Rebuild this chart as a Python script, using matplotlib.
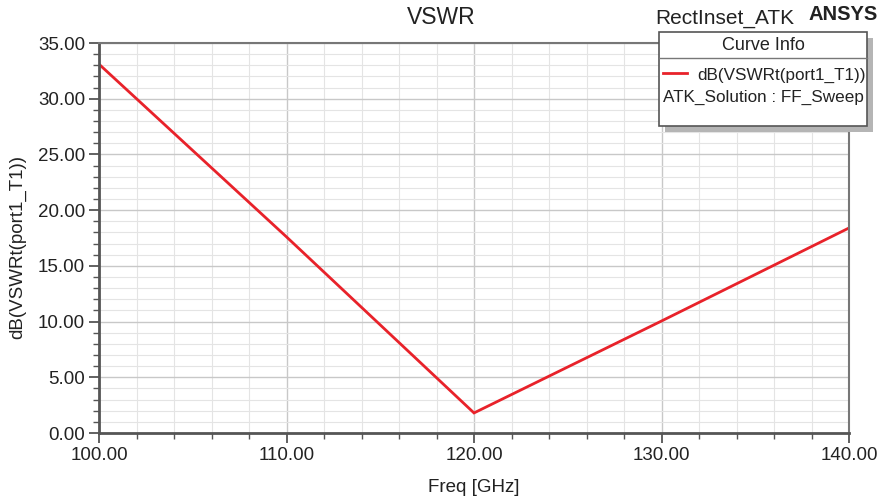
import matplotlib
matplotlib.use("Agg")
import matplotlib.pyplot as plt
from matplotlib.patches import Rectangle
from matplotlib.lines import Line2D
from matplotlib.ticker import MultipleLocator, FormatStrFormatter

plt.rcParams['font.family'] = ['Liberation Sans', 'DejaVu Sans']

freq = [100, 110, 120, 130, 140]
vswr_db = [33.1, 17.6, 1.8, 10.05, 18.4]

W, H = 882, 499
fig = plt.figure(figsize=(W / 100, H / 100), dpi=100)
ax = fig.add_axes([99 / W, 1 - 433 / H, (849 - 99) / W, (433 - 43) / H])

ax.plot(freq, vswr_db, color='#e8222a', lw=2.0, solid_joinstyle='miter')
ax.set_xlim(100, 140)
ax.set_ylim(0, 35)
ax.xaxis.set_major_locator(MultipleLocator(10))
ax.xaxis.set_minor_locator(MultipleLocator(2))
ax.yaxis.set_major_locator(MultipleLocator(5))
ax.yaxis.set_minor_locator(MultipleLocator(1))
ax.xaxis.set_major_formatter(FormatStrFormatter('%.2f'))
ax.yaxis.set_major_formatter(FormatStrFormatter('%.2f'))
ax.grid(which='major', color='#c8c8c8', lw=1.0)
ax.grid(which='minor', color='#e4e4e4', lw=0.8)
ax.set_axisbelow(True)
ax.tick_params(which='major', direction='out', length=7, width=1.3, color='#555555',
               labelsize=13.5, labelcolor='#222222', pad=3)
ax.tick_params(which='minor', direction='out', length=4, width=1.0, color='#555555')
for s in ['left', 'bottom']:
    ax.spines[s].set_color('#555555')
    ax.spines[s].set_linewidth(2.0)
for s in ['right', 'top']:
    ax.spines[s].set_color('#777777')
    ax.spines[s].set_linewidth(1.5)

ax.set_xlabel('Freq [GHz]', fontsize=13.5, color='#222222')
ax.xaxis.set_label_coords(0.5, -(488 - 433) / 390)
ax.set_ylabel('dB(VSWRt(port1_T1))', fontsize=13.5, color='#222222')
ax.yaxis.set_label_coords(-(99 - 18) / 750, (433 - 247) / 390)
ax.yaxis.label.set_va('center')
ax.xaxis.label.set_va('center')

fig.text(441 / W, 1 - 18 / H, 'VSWR', ha='center', va='center', fontsize=16.5, color='#222222')
fig.text(725 / W, 1 - 18 / H, 'RectInset_ATK', ha='center', va='center', fontsize=15, color='#222222')
fig.text(843 / W, 1 - 14 / H, 'ANSYS', ha='center', va='center', fontsize=14.5,
         fontweight='bold', color='#222222')

# legend box
lx0, ly0, lx1, ly1 = 659, 32, 867, 126
fig.patches.append(Rectangle(((lx0 + 6) / W, 1 - (ly1 + 6) / H), (lx1 - lx0) / W, (ly1 - ly0) / H,
                             transform=fig.transFigure, facecolor='#b5b5b5', edgecolor='none', zorder=5))
fig.patches.append(Rectangle((lx0 / W, 1 - ly1 / H), (lx1 - lx0) / W, (ly1 - ly0) / H,
                             transform=fig.transFigure, facecolor='white', edgecolor='#555555',
                             lw=1.2, zorder=6))
fig.lines.append(Line2D([lx0 / W, lx1 / W], [1 - 58 / H, 1 - 58 / H], transform=fig.transFigure,
                        color='#777777', lw=1.0, zorder=7))
fig.text((lx0 + lx1) / 2 / W, 1 - 46 / H, 'Curve Info', ha='center', va='center',
         fontsize=13, color='#222222', zorder=8)
fig.lines.append(Line2D([663 / W, 687 / W], [1 - 73 / H, 1 - 73 / H], transform=fig.transFigure,
                        color='#e8222a', lw=2.0, zorder=8))
fig.text(866 / W, 1 - 75 / H, 'dB(VSWRt(port1_T1))', ha='right', va='center',
         fontsize=12.3, color='#222222', zorder=8)
fig.text(663 / W, 1 - 97 / H, 'ATK_Solution : FF_Sweep', ha='left', va='center',
         fontsize=12.3, color='#222222', zorder=8)

fig.savefig('out.png', dpi=100)
